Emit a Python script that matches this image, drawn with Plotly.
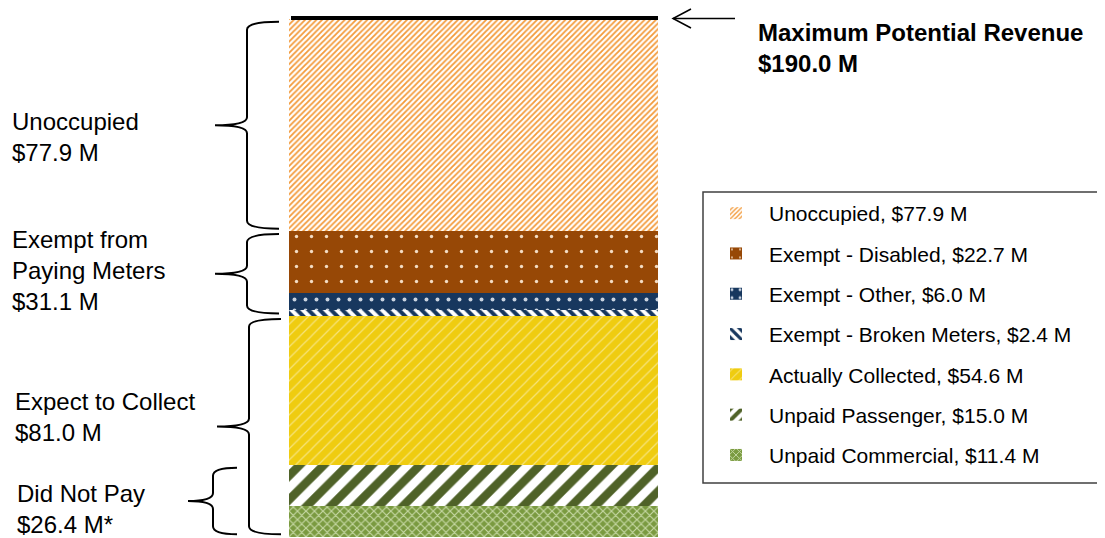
import plotly.graph_objects as go

# ---------------- data ----------------
categories = ["Unpaid Commercial", "Unpaid Passenger", "Actually Collected",
              "Exempt - Broken Meters", "Exempt - Other", "Exempt - Disabled", "Unoccupied"]
values = [11.4, 15.0, 54.6, 2.4, 6.0, 22.7, 77.9]

group_labels = ["Unoccupied", "Exempt from<br>Paying Meters", "Expect to Collect", "Did Not Pay"]
group_values = [77.9, 31.1, 81.0, 26.4]
group_notes = ["", "", "", "*"]

max_label = "Maximum Potential Revenue"
max_revenue = 190.0
bar_category = ["Revenue"]

# ---------------- layout helpers ----------------
# page body has an 8px margin, so screen pixel p maps to figure pixel p - 8
OFF = 8
W, H = 1105 - OFF, 538 - OFF
MT = 19 - OFF
MB = H - (537 - OFF)
PH = H - MT - MB


def px_x(p):
    return (p - OFF) / W


def px_y(p):
    return (H - MB - (p - OFF)) / PH


U = max_revenue / PH  # data units per pixel

styles = {
    "Unoccupied": dict(shape="/", fgcolor="#F39A3A", bgcolor="#FFFFFF", size=4, solidity=0.45),
    "Exempt - Disabled": dict(shape=".", fgcolor="#F3DCC4", bgcolor="#974806", size=15, solidity=0.04),
    "Exempt - Other": dict(shape=".", fgcolor="#C9D3E0", bgcolor="#17375E", size=11, solidity=0.1),
    "Exempt - Broken Meters": dict(shape="\\", fgcolor="#17375E", bgcolor="#FFFFFF", size=8, solidity=0.5),
    "Actually Collected": dict(shape="/", fgcolor="rgba(255,255,255,0.45)", bgcolor="#EFCC10", size=8, solidity=0.15),
    "Unpaid Passenger": dict(shape="/", fgcolor="#4F6228", bgcolor="#FFFFFF", size=17, solidity=0.5),
    "Unpaid Commercial": dict(shape="x", fgcolor="#C6D8A4", bgcolor="#7A9A40", size=6, solidity=0.35),
}

fig = go.Figure()
n = len(categories)
for i, (cat, val) in enumerate(zip(categories, values)):
    st = styles[cat]
    fig.add_trace(go.Bar(
        x=bar_category, y=[val],
        name=f"{cat}, ${val:.1f} M",
        legendgroup=cat,
        legendrank=n - i,
        marker=dict(color=st["bgcolor"], line=dict(width=0),
                    pattern=dict(shape=st["shape"], fgcolor=st["fgcolor"], bgcolor=st["bgcolor"],
                                 size=st["size"], solidity=st["solidity"], fillmode="replace")),
        hoverinfo="name",
    ))

shapes = []
annotations = []

# legend frame
shapes.append(dict(type="rect", xref="paper", yref="paper", layer="below",
                   x0=px_x(703), x1=px_x(1104), y0=px_y(192), y1=px_y(483),
                   line=dict(color="#404040", width=1.5), fillcolor="white"))

# top line at maximum revenue
shapes.append(dict(type="line", xref="paper", yref="paper", x0=px_x(291), x1=px_x(658),
                   y0=px_y(18), y1=px_y(18), line=dict(color="black", width=4)))

# arrow
ay = px_y(18.5)
shapes.append(dict(type="line", xref="paper", yref="paper", x0=px_x(673), x1=px_x(735), y0=ay, y1=ay,
                   line=dict(color="black", width=1.5)))
shapes.append(dict(type="path", xref="paper", yref="paper",
                   path=f"M{px_x(691)},{px_y(9)} L{px_x(673)},{ay} L{px_x(691)},{px_y(28)}",
                   line=dict(color="black", width=1.5)))

annotations.append(dict(xref="paper", yref="paper", x=px_x(756), y=px_y(48), xanchor="left", yanchor="middle",
                        align="left", showarrow=False,
                        text=f"<b>{max_label}<br>${max_revenue:.1f} M</b>",
                        font=dict(family="Arial", size=24, color="black")))

# group ranges
exp_lo = 0.0
exp_hi = group_values[2]
ex_lo = exp_hi
ex_hi = ex_lo + group_values[1]
un_lo = ex_hi
un_hi = un_lo + group_values[0]
dnp_lo = 0.0
dnp_hi = group_values[3]

ranges = [(un_lo, un_hi), (ex_lo, ex_hi), (exp_lo, exp_hi), (dnp_lo, dnp_hi)]
brace_x = [(279, 247, 215), (279, 247, 215), (281, 249, 217), (237, 213, 188)]
label_pos = [(10, 137), (10, 270), (13, 417), (15, 509)]


def brace(xt, xs, xp, lo, hi, inset=1.0):
    yt = hi - inset
    yb = lo + inset
    ym = (yt + yb) / 2
    r = 8 * U
    t, s, p = px_x(xt), px_x(xs), px_x(xp)
    return (f"M{t},{yt} Q{s},{yt} {s},{yt - r} L{s},{ym + r} Q{s},{ym} {p},{ym} "
            f"Q{s},{ym} {s},{ym - r} L{s},{yb + r} Q{s},{yb} {t},{yb}")


for (lo, hi), (xt, xs, xp), lab, val, note, (lx, ly) in zip(ranges, brace_x, group_labels,
                                                             group_values, group_notes, label_pos):
    shapes.append(dict(type="path", xref="paper", yref="y", path=brace(xt, xs, xp, lo, hi),
                       line=dict(color="black", width=2)))
    annotations.append(dict(xref="paper", yref="paper", x=px_x(lx), y=px_y(ly), xanchor="left",
                            yanchor="middle", align="left", showarrow=False,
                            text=f"{lab}<br>${val:.1f} M{note}",
                            font=dict(family="Arial", size=24, color="black")))

fig.update_layout(
    width=W, height=H,
    margin=dict(l=0, r=0, t=MT, b=MB, pad=0),
    paper_bgcolor="white", plot_bgcolor="white",
    barmode="stack", bargap=0,
    xaxis=dict(domain=[px_x(289), px_x(658)], range=[-0.5, 0.5], visible=False, fixedrange=True),
    yaxis=dict(range=[0, max_revenue], visible=False, fixedrange=True),
    showlegend=True,
    legend=dict(x=px_x(703), y=px_y(193), xanchor="left", yanchor="top",
                traceorder="grouped", tracegroupgap=10,
                borderwidth=0, bgcolor="rgba(0,0,0,0)",
                font=dict(family="Arial", size=21, color="black"), itemwidth=56),
    shapes=shapes, annotations=annotations,
)

fig.write_html("out.html")
